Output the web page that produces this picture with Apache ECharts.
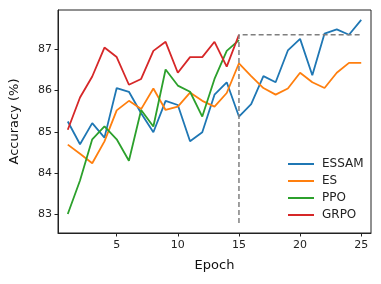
<!DOCTYPE html>
<html>
<head>
<meta charset="utf-8">
<script src="https://cdn.jsdelivr.net/npm/echarts@6/dist/echarts.min.js"></script>
<style>html,body{margin:0;padding:0;background:#fff}#c{width:381px;height:284px}</style>
</head>
<body>
<div id="c"></div>
<script>
const epochs = [1,2,3,4,5,6,7,8,9,10,11,12,13,14,15,16,17,18,19,20,21,22,23,24,25];
const essam = [85.25,84.70,85.21,84.86,86.06,85.97,85.45,84.99,85.75,85.65,84.77,84.99,85.90,86.20,85.37,85.67,86.35,86.20,86.97,87.25,86.37,87.38,87.48,87.35,87.71];
const es = [84.69,84.47,84.24,84.77,85.52,85.75,85.55,86.05,85.53,85.61,85.95,85.75,85.61,85.94,86.66,86.35,86.06,85.90,86.05,86.43,86.20,86.06,86.43,86.67,86.67];
const ppoEpochs = [1,2,3,4,5,6,7,8,9,10,11,12,13,14,15];
const ppo = [83.01,83.82,84.82,85.13,84.82,84.30,85.53,85.13,86.51,86.12,85.97,85.37,86.28,86.96,87.22];
const grpo = [85.05,85.83,86.34,87.04,86.81,86.14,86.28,86.96,87.18,86.43,86.81,86.81,87.18,86.58,87.35];
const refX = [15,15,25];
const refY = [82.79,87.35,87.35];
const xTicks = [5,10,15,20,25];
const yTicks = [83,84,85,86,87];
const names = ['ESSAM','ES','PPO','GRPO'];
const colors = ['#1f77b4','#ff7f0e','#2ca02c','#d62728'];

const zip = (xs, ys) => xs.map((x,i)=>[x, ys[i]]);
const font = 'DejaVu Sans';
const mk = (name, data, color, z) => ({
  name, type:'line', data, symbol:'none', z,
  lineStyle:{color, width:1.8}, itemStyle:{color},
  animation:false
});

const chart = echarts.init(document.getElementById('c'), null, {renderer:'canvas'});
chart.setOption({
  animation:false,
  grid:{left:53, right:10, top:10, bottom:51, show:true, borderColor:'#222', borderWidth:1, backgroundColor:'transparent'},
  xAxis:{
    type:'value', min:0.2, max:25.8,
    name:'Epoch', nameLocation:'middle', nameGap:26,
    nameTextStyle:{fontFamily:font, fontSize:13, color:'#111'},
    axisLine:{show:true, lineStyle:{color:'#222', width:1}},
    axisTick:{show:true, length:3.5, customValues:xTicks, lineStyle:{color:'#222'}},
    axisLabel:{customValues:xTicks, fontFamily:font, fontSize:11, color:'#222', margin:6.5},
    splitLine:{show:false}
  },
  yAxis:{
    type:'value', min:82.55, max:87.95,
    name:'Accuracy (%)', nameLocation:'middle', nameGap:37,
    nameTextStyle:{fontFamily:font, fontSize:13, color:'#111'},
    axisLine:{show:true, lineStyle:{color:'#222', width:1}},
    axisTick:{show:true, length:3.5, customValues:yTicks, lineStyle:{color:'#222'}},
    axisLabel:{customValues:yTicks, fontFamily:font, fontSize:11, color:'#222', margin:6},
    splitLine:{show:false}
  },
  legend:{
    data:names, orient:'vertical', left:283, top:153,
    icon:'rect', itemWidth:26, itemHeight:2, itemGap:5,
    textStyle:{fontFamily:font, fontSize:12, color:'#222', padding:[0,0,0,3]}
  },
  series:[
    mk(names[0], zip(epochs, essam), colors[0], 2),
    mk(names[1], zip(epochs, es), colors[1], 3),
    mk(names[2], zip(ppoEpochs, ppo), colors[2], 4),
    mk(names[3], zip(ppoEpochs, grpo), colors[3], 5),
    {type:'line', data:zip(refX, refY), symbol:'none', z:6, silent:true,
     lineStyle:{color:'#7f7f7f', width:1.5, type:[5,3]}, animation:false}
  ]
});
</script>
</body>
</html>
